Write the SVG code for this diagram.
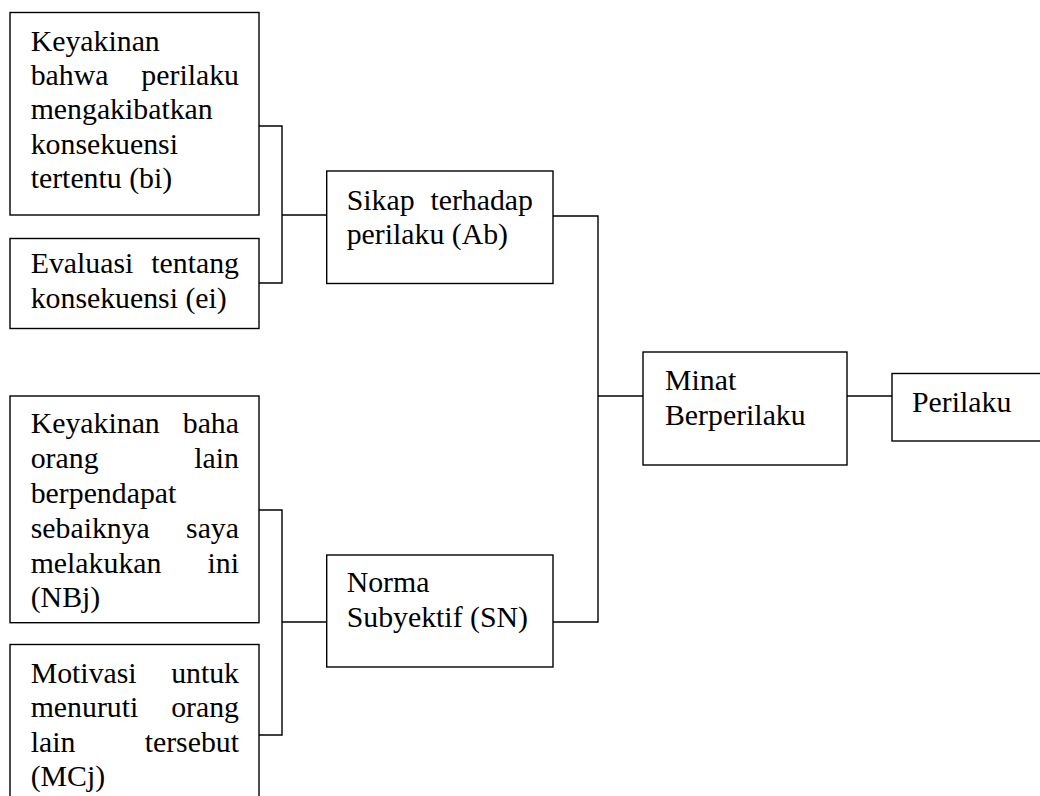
<svg xmlns="http://www.w3.org/2000/svg" width="1040" height="796" viewBox="0 0 1040 796">
<style>
rect{fill:#fff;stroke:#000;stroke-width:1.4}
.c{fill:none;stroke:#000;stroke-width:1.4}
text{font-family:"Liberation Serif","Times New Roman",serif;font-size:29.8px;fill:#000}
.e{text-anchor:end}
</style>
<rect width="1040" height="796" style="stroke:none"/>
<g id="connectors">
<polyline class="c" points="259,126 282,126 282,283 259,283"/>
<line class="c" x1="282" y1="215" x2="327" y2="215"/>
<polyline class="c" points="259,510 282,510 282,735 259,735"/>
<line class="c" x1="282" y1="622" x2="327" y2="622"/>
<polyline class="c" points="553,216 598,216 598,622 553,622"/>
<line class="c" x1="598" y1="396" x2="643" y2="396"/>
<line class="c" x1="847" y1="396" x2="892" y2="396"/>
</g>
<g id="n1">
<rect x="10" y="12.5" width="249" height="202.5"/>
<text x="30.7" y="50.7">Keyakinan</text>
<text x="30.7" y="85">bahwa</text><text class="e" x="239" y="85">perilaku</text>
<text x="30.7" y="119.3">mengakibatkan</text>
<text x="30.7" y="153.6">konsekuensi</text>
<text x="30.7" y="188">tertentu (bi)</text>
</g>
<g id="n2">
<rect x="10" y="238.5" width="249" height="90"/>
<text x="30.7" y="273">Evaluasi</text><text class="e" x="239" y="273">tentang</text>
<text x="30.7" y="308">konsekuensi (ei)</text>
</g>
<g id="n3">
<rect x="326.7" y="171" width="226.3" height="112.5"/>
<text x="346.7" y="210">Sikap</text><text class="e" x="533" y="210">terhadap</text>
<text x="346.7" y="244">perilaku (Ab)</text>
</g>
<g id="n4">
<rect x="10" y="396" width="249" height="226.7"/>
<text x="30.7" y="433">Keyakinan</text><text class="e" x="239" y="433">baha</text>
<text x="30.7" y="468">orang</text><text class="e" x="239" y="468">lain</text>
<text x="30.7" y="503">berpendapat</text>
<text x="30.7" y="538">sebaiknya</text><text class="e" x="239" y="538">saya</text>
<text x="30.7" y="573">melakukan</text><text class="e" x="239" y="573">ini</text>
<text x="30.7" y="607">(NBj)</text>
</g>
<g id="n5">
<rect x="10" y="644.5" width="249" height="170"/>
<text x="30.7" y="683">Motivasi</text><text class="e" x="239" y="683">untuk</text>
<text x="30.7" y="717">menuruti</text><text class="e" x="239" y="717">orang</text>
<text x="30.7" y="752">lain</text><text class="e" x="239" y="752">tersebut</text>
<text x="30.7" y="786">(MCj)</text>
</g>
<g id="n6">
<rect x="326.7" y="555" width="226.3" height="112"/>
<text x="346.7" y="592">Norma</text>
<text x="346.7" y="627">Subyektif (SN)</text>
</g>
<g id="n7">
<rect x="643" y="352" width="204" height="113"/>
<text x="665" y="390">Minat</text>
<text x="665" y="425">Berperilaku</text>
</g>
<g id="n8">
<rect x="892" y="373.5" width="160" height="67.5"/>
<text x="912" y="412">Perilaku</text>
</g>
</svg>
